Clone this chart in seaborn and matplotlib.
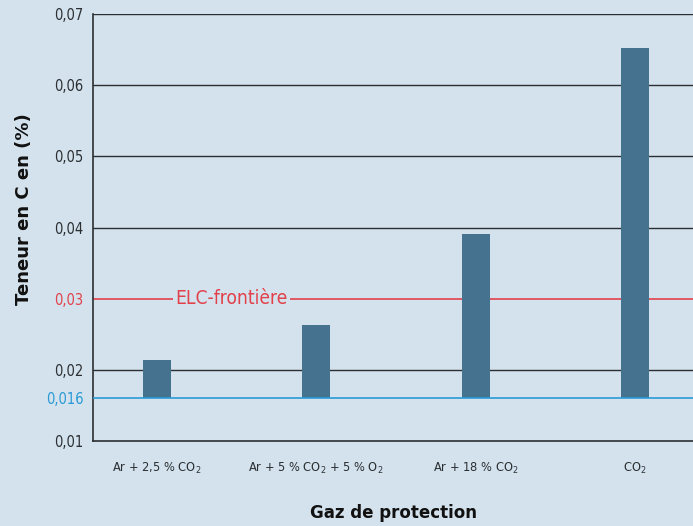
import matplotlib
matplotlib.use("Agg")
import matplotlib.pyplot as plt
from matplotlib import font_manager
import seaborn as sns
import pandas as pd

categories = ["Ar + 2,5 % CO$_2$", "Ar + 5 % CO$_2$ + 5 % O$_2$", "Ar + 18 % CO$_2$", "CO$_2$"]
values = [0.0214, 0.0263, 0.0391, 0.0652]
baseline = 0.016
limit = 0.03
yticks = [0.01, 0.016, 0.02, 0.03, 0.04, 0.05, 0.06, 0.07]
ytick_labels = ["0,01", "0,016", "0,02", "0,03", "0,04", "0,05", "0,06", "0,07"]

BG = "#d3e2ec"
BAR = "#44728f"
RED = "#e2404a"
BLUE = "#2a9ad6"
DARK = "#2b2f33"

sns.set_theme(style="white")
names = {f.name for f in font_manager.fontManager.ttflist}
narrow = "Liberation Sans Narrow" if "Liberation Sans Narrow" in names else "DejaVu Sans"
plt.rcParams["font.family"] = [narrow, "DejaVu Sans"]
plt.rcParams["font.stretch"] = "condensed"
plt.rcParams["mathtext.fontset"] = "custom"
plt.rcParams["mathtext.rm"] = narrow

fig = plt.figure(figsize=(6.93, 5.26), dpi=100, facecolor=BG)
ax = fig.add_axes([93/693, 85/526, 600/693, 427/526])
ax.set_facecolor(BG)

df = pd.DataFrame({"cat": categories, "h": [v - baseline for v in values]})

for y in [0.02, 0.04, 0.05, 0.06, 0.07]:
    ax.axhline(y, color=DARK, lw=1.0, zorder=1)
ax.axhline(limit, color=RED, lw=1.2, zorder=1)

sns.barplot(data=df, x="cat", y="h", color=BAR, saturation=1, width=0.176,
            bottom=baseline, ax=ax, zorder=2, edgecolor="none")

ax.axhline(baseline, color=BLUE, lw=1.2, zorder=3)

ax.set_ylim(0.01, 0.07)
ax.set_xlim(-0.40, 3.364)
ax.set_yticks(yticks)
ax.set_yticklabels(ytick_labels)
for lab, y in zip(ax.get_yticklabels(), yticks):
    lab.set_color(RED if y == limit else (BLUE if y == baseline else DARK))
    lab.set_fontsize(10.5)
ax.tick_params(axis="y", length=0, pad=7)
ax.tick_params(axis="x", length=0, pad=14, labelsize=9.2, labelcolor=DARK)

for s in ["top", "right"]:
    ax.spines[s].set_visible(False)
for s in ["left", "bottom"]:
    ax.spines[s].set_color(DARK)
    ax.spines[s].set_linewidth(1.2)

ax.text(0.47, limit, "ELC-frontière", color=RED, fontsize=13.8, ha="center", va="center",
        bbox=dict(facecolor=BG, edgecolor="none", pad=1.5), zorder=4)

ax.set_xlabel("Gaz de protection", fontsize=12, fontweight="bold", color="#111111",
              family=["DejaVu Sans"], fontstretch="normal")
ax.set_ylabel("Teneur en C en (%)", fontsize=13, fontweight="bold", color="#111111",
              family=["DejaVu Sans"], fontstretch="normal")
ax.yaxis.set_label_coords(-0.10, 0.543)
ax.xaxis.set_label_coords(0.5, -0.148)

fig.savefig("out.png", dpi=100, facecolor=BG)
